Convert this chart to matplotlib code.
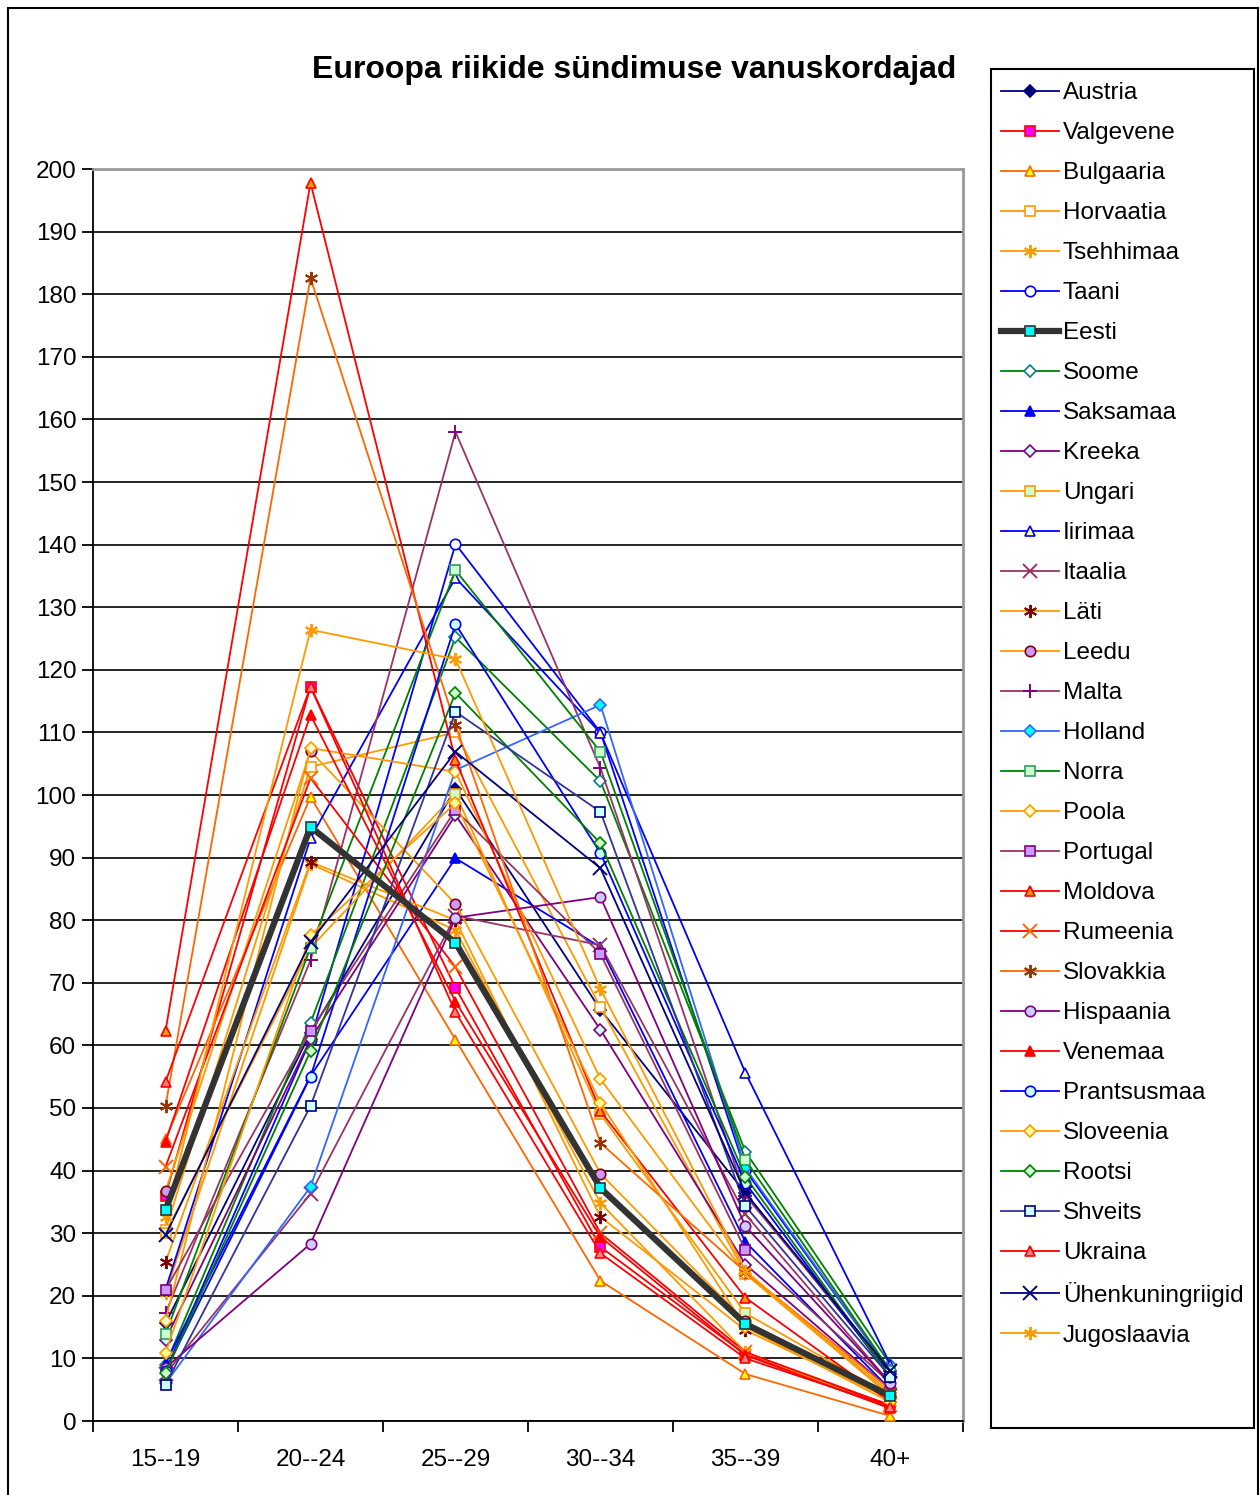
import matplotlib
matplotlib.use("Agg")
import matplotlib.pyplot as plt
from matplotlib.patches import Rectangle

plt.rcParams['font.family'] = ['Liberation Sans', 'DejaVu Sans']

# --- andmed ---
vanused = ["15--19", "20--24", "25--29", "30--34", "35--39", "40+"]

austria = [15.6, 62.0, 101.0, 65.7, 36.4, 7.5]
valgevene = [36.0, 117.3, 69.2, 27.8, 10.6, 2.5]
bulgaaria = [45.0, 99.7, 60.9, 22.4, 7.5, 0.8]
horvaatia = [30.5, 104.5, 110.0, 66.1, 23.5, 4.0]
tsehhimaa = [20.5, 89.0, 78.4, 34.8, 11.0, 2.0]
taani = [8.0, 60.9, 140.1, 110.0, 40.0, 8.0]
eesti = [33.7, 94.9, 76.4, 37.2, 15.5, 4.0]
soome = [9.0, 63.6, 125.2, 102.2, 43.0, 9.0]
saksamaa = [9.2, 55.1, 89.9, 75.7, 28.6, 5.0]
kreeka = [13.0, 61.0, 96.8, 62.5, 25.0, 5.0]
ungari = [30.0, 75.6, 100.2, 49.0, 17.2, 4.0]
iirimaa = [21.0, 93.1, 134.7, 109.9, 55.6, 9.0]
itaalia = [7.5, 36.3, 80.7, 76.0, 33.0, 6.0]
lati = [25.4, 89.3, 80.0, 32.6, 14.5, 3.5]
leedu = [36.7, 107.0, 82.6, 39.5, 15.9, 4.0]
malta = [17.2, 73.6, 158.0, 104.3, 36.0, 8.0]
holland = [6.0, 37.4, 104.0, 114.4, 40.4, 8.0]
norra = [13.9, 75.6, 135.9, 106.9, 41.7, 8.0]
poola = [16.0, 107.5, 103.7, 54.6, 23.5, 4.5]
portugal = [20.9, 62.3, 97.6, 74.6, 27.3, 6.0]
moldova = [62.3, 197.8, 105.6, 49.5, 19.7, 3.0]
rumeenia = [40.6, 102.7, 72.5, 30.0, 11.0, 2.5]
slovakkia = [50.3, 182.6, 111.2, 44.4, 23.8, 5.0]
hispaania = [8.5, 28.3, 80.4, 83.7, 31.1, 6.0]
venemaa = [44.6, 112.8, 67.0, 29.4, 10.5, 2.0]
prantsusmaa = [8.0, 55.0, 127.3, 90.7, 38.0, 7.0]
sloveenia = [10.9, 77.6, 98.7, 50.8, 15.0, 3.0]
rootsi = [7.7, 59.1, 116.3, 92.3, 39.0, 7.0]
shveits = [5.8, 50.3, 113.3, 97.3, 34.3, 7.0]
ukraina = [54.2, 117.3, 65.3, 26.8, 10.0, 2.3]
uhenkuningriigid = [29.7, 76.5, 106.9, 88.3, 36.4, 8.0]
jugoslaavia = [32.6, 126.4, 121.7, 69.0, 24.0, 4.0]

seeriad = [
    ("Austria", austria), ("Valgevene", valgevene), ("Bulgaaria", bulgaaria),
    ("Horvaatia", horvaatia), ("Tsehhimaa", tsehhimaa), ("Taani", taani),
    ("Eesti", eesti), ("Soome", soome), ("Saksamaa", saksamaa),
    ("Kreeka", kreeka), ("Ungari", ungari), ("Iirimaa", iirimaa),
    ("Itaalia", itaalia), ("Läti", lati), ("Leedu", leedu), ("Malta", malta),
    ("Holland", holland), ("Norra", norra), ("Poola", poola),
    ("Portugal", portugal), ("Moldova", moldova), ("Rumeenia", rumeenia),
    ("Slovakkia", slovakkia), ("Hispaania", hispaania), ("Venemaa", venemaa),
    ("Prantsusmaa", prantsusmaa), ("Sloveenia", sloveenia), ("Rootsi", rootsi),
    ("Shveits", shveits), ("Ukraina", ukraina),
    ("Ühenkuningriigid", uhenkuningriigid), ("Jugoslaavia", jugoslaavia),
]

# joone värv, marker, markeri täide, markeri serv
ast = (6, 2, 0)
stiilid = {
    "Austria": ("#000080", "D", "#000080", "#000080"),
    "Valgevene": ("#FF0000", "s", "#FF00FF", "#FF0000"),
    "Bulgaaria": ("#FF6600", "^", "#FFFF00", "#FF6600"),
    "Horvaatia": ("#FF9900", "s", "white", "#FF9900"),
    "Tsehhimaa": ("#FF9900", ast, "#FF9900", "#FF9900"),
    "Taani": ("#0000FF", "o", "white", "#0000FF"),
    "Eesti": ("#333333", "s", "#00FFFF", "#333333"),
    "Soome": ("#008000", "D", "white", "#008080"),
    "Saksamaa": ("#0000FF", "^", "#0000FF", "#0000FF"),
    "Kreeka": ("#800080", "D", "#CCFFFF", "#800080"),
    "Ungari": ("#FF9900", "s", "#CCFFCC", "#FF9900"),
    "Iirimaa": ("#0000FF", "^", "#FFFF99", "#0000FF"),
    "Itaalia": ("#993366", "x", "#993366", "#993366"),
    "Läti": ("#FF9900", ast, "#800000", "#800000"),
    "Leedu": ("#FF9900", "o", "#CC99FF", "#800000"),
    "Malta": ("#993366", "+", "#800080", "#800080"),
    "Holland": ("#3366FF", "D", "#00FFFF", "#3366FF"),
    "Norra": ("#008000", "s", "#CCFFCC", "#339966"),
    "Poola": ("#FF9900", "D", "#FFFFCC", "#FF9900"),
    "Portugal": ("#993366", "s", "#CC99FF", "#800080"),
    "Moldova": ("#FF0000", "^", "#FF9900", "#FF0000"),
    "Rumeenia": ("#FF0000", "x", "#FF6600", "#FF6600"),
    "Slovakkia": ("#FF6600", ast, "#993300", "#993300"),
    "Hispaania": ("#800080", "o", "#CCCCFF", "#800080"),
    "Venemaa": ("#FF0000", "^", "#FF0000", "#FF0000"),
    "Prantsusmaa": ("#0000FF", "o", "#CCFFFF", "#0000FF"),
    "Sloveenia": ("#FF9900", "D", "#FFFF99", "#FF9900"),
    "Rootsi": ("#008000", "D", "#CCFFCC", "#008000"),
    "Shveits": ("#333399", "s", "#CCFFFF", "#000080"),
    "Ukraina": ("#FF0000", "^", "#FF8080", "#FF0000"),
    "Ühenkuningriigid": ("#000080", "x", "#000080", "#000080"),
    "Jugoslaavia": ("#FF9900", ast, "#FF9900", "#FF9900"),
}

W, H = 1260, 1495
fig = plt.figure(figsize=(12.6, 14.95), dpi=100)
# välimine raam ja legendi kast
fig.patches.append(Rectangle((8 / W, -0.01), 1250 / W, 1.01 - 8 / H,
                             transform=fig.transFigure, fill=False,
                             edgecolor="black", linewidth=1.5))
fig.patches.append(Rectangle((991 / W, 1 - 1428 / H), 263 / W, 1359 / H,
                             transform=fig.transFigure, fill=False,
                             edgecolor="black", linewidth=1.5))

ax = fig.add_axes([93 / W, 1 - 1421 / H, 870 / W, 1252 / H])
x = list(range(len(vanused)))

handles = []
for nimi, val in seeriad:
    lc, mk, mf, me = stiilid[nimi]
    lw = 4.5 if nimi == "Eesti" else 1.3
    if mk == "D":
        ms = 6.5
    elif mk in ("x", "+", ast):
        ms = 9.5
    else:
        ms = 7.5
    mew = 1.4 if mk in ("x", "+", ast) else 1.2
    ln, = ax.plot(x, val, color=lc, lw=lw, marker=mk, markersize=ms,
                  markerfacecolor=mf, markeredgecolor=me, markeredgewidth=mew,
                  label=nimi, zorder=4 if nimi == "Eesti" else 3)
    handles.append(ln)

ax.set_xlim(-0.5, 5.5)
ax.set_ylim(0, 200)
ax.set_yticks(range(0, 201, 10))
ax.set_xticks(x)
ax.set_xticklabels(vanused)
ax.set_xticks([i - 0.5 for i in range(7)], minor=True)
ax.tick_params(axis="x", which="major", length=0, pad=20, labelsize=17.5)
ax.tick_params(axis="x", which="minor", length=8, width=1.3, direction="out")
ax.tick_params(axis="y", length=8, width=1.3, direction="out", labelsize=17.5, pad=4)
ax.grid(axis="y", color="black", lw=1.2)
ax.set_axisbelow(True)
for s in ("top", "right"):
    ax.spines[s].set_color("#999999")
    ax.spines[s].set_linewidth(2)
for s in ("left", "bottom"):
    ax.spines[s].set_color("black")
    ax.spines[s].set_linewidth(1.3)

fig.text(634 / W, 1 - 70 / H, "Euroopa riikide sündimuse vanuskordajad",
         ha="center", va="center", fontsize=23, fontweight="bold")

leg = fig.legend(handles=handles, loc="upper left",
                 bbox_to_anchor=(1001 / W, 1 - 82 / H),
                 fontsize=17.5, frameon=False,
                 handlelength=2.4, handletextpad=0.15, labelspacing=0.74,
                 borderpad=0.0, borderaxespad=0, markerscale=1.0)

fig.savefig("out.png", dpi=100)
